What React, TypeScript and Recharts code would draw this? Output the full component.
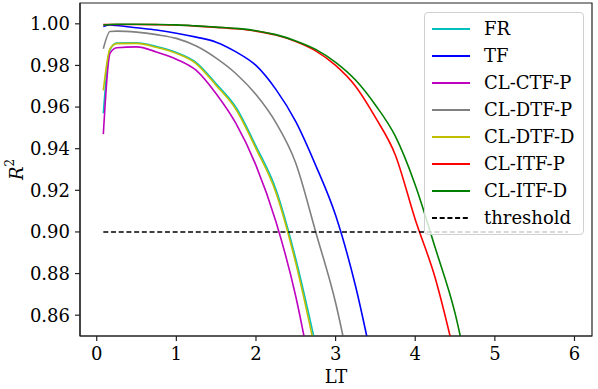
import React from "react"
import { LineChart, Line, XAxis, YAxis, Legend, ReferenceArea } from "recharts"

// lead time grid (x values shared by all series)
const lt = [0.083, 0.167, 0.25, 0.5, 0.75, 1, 1.25, 1.5, 1.75, 2, 2.25, 2.5, 2.75, 3, 3.25, 3.5, 3.75, 4, 4.25, 4.5, 4.75]

// R^2 per model (series stop once they leave the bottom)
const fr = [0.957, 0.9875, 0.9907, 0.9909, 0.9891, 0.9862, 0.9814, 0.9712, 0.9598, 0.9412, 0.9205, 0.887, 0.8455]
const tf = [0.9987, 0.9994, 0.9992, 0.9981, 0.997, 0.9955, 0.9936, 0.9912, 0.9865, 0.98, 0.9685, 0.953, 0.932, 0.908, 0.874, 0.83]
const clCtfP = [0.947, 0.9858, 0.9885, 0.9889, 0.9865, 0.983, 0.9776, 0.9664, 0.952, 0.932, 0.905, 0.869, 0.82]
const clDtfP = [0.988, 0.9963, 0.9965, 0.996, 0.9948, 0.993, 0.9893, 0.9835, 0.976, 0.966, 0.9525, 0.933, 0.9, 0.866, 0.82]
const clDtfD = [0.968, 0.988, 0.9905, 0.9906, 0.9887, 0.9858, 0.9808, 0.9704, 0.9588, 0.94, 0.919, 0.885, 0.842]
const clItfP = [0.9996, 0.9997, 0.9997, 0.9997, 0.9996, 0.9994, 0.9989, 0.9983, 0.9976, 0.9965, 0.9946, 0.9915, 0.987, 0.98, 0.97, 0.955, 0.937, 0.906, 0.878, 0.84]
const clItfD = [0.9994, 0.9997, 0.9998, 0.9998, 0.9997, 0.9995, 0.999, 0.9984, 0.9978, 0.9967, 0.9948, 0.9918, 0.9877, 0.9815, 0.973, 0.961, 0.946, 0.9226, 0.8925, 0.861, 0.815]

// threshold line
const thresholdLt = [0.083, 5.917]
const thresholdVal = [0.9, 0.9]

const xTicks = [0, 1, 2, 3, 4, 5, 6]
const yTicks = [0.86, 0.88, 0.9, 0.92, 0.94, 0.96, 0.98, 1.0]

const FONT = "DejaVu Serif"

const series = [
  { name: "FR", color: "#00bfbf", xs: lt, ys: fr, dash: undefined },
  { name: "TF", color: "#0000ff", xs: lt, ys: tf, dash: undefined },
  { name: "CL-CTF-P", color: "#bf00bf", xs: lt, ys: clCtfP, dash: undefined },
  { name: "CL-DTF-P", color: "#808080", xs: lt, ys: clDtfP, dash: undefined },
  { name: "CL-DTF-D", color: "#bfbf00", xs: lt, ys: clDtfD, dash: undefined },
  { name: "CL-ITF-P", color: "#ff0000", xs: lt, ys: clItfP, dash: undefined },
  { name: "CL-ITF-D", color: "#008000", xs: lt, ys: clItfD, dash: undefined },
  { name: "threshold", color: "#000000", xs: thresholdLt, ys: thresholdVal, dash: "5 2.7" },
]

const toRows = (xs: number[], ys: number[]) => ys.map((y, i) => ({ lt: xs[i], r2: y }))

const YLabel = ({ viewBox }: any) => {
  const cx = viewBox.x + 16
  const cy = viewBox.y + viewBox.height / 2
  return (
    <text
      x={cx}
      y={cy}
      transform={`rotate(-90 ${cx} ${cy})`}
      textAnchor="middle"
      dominantBaseline="central"
      fontFamily={FONT}
      fontSize={18}
      fill="#000"
    >
      <tspan fontStyle="italic">R</tspan>
      <tspan dy={-6} fontSize={12}>2</tspan>
    </text>
  )
}

const XLabel = ({ viewBox }: any) => (
  <text
    x={viewBox.x + viewBox.width / 2}
    y={viewBox.y + 47}
    textAnchor="middle"
    fontFamily={FONT}
    fontSize={18}
    fill="#000"
  >
    LT
  </text>
)

const LegendBox = () => (
  <div
    style={{
      fontFamily: FONT,
      fontSize: 18,
      background: "rgba(255,255,255,0.8)",
      border: "1px solid #d0d0d0",
      borderRadius: 4,
      padding: "2px 0 3px 0",
      boxSizing: "border-box",
      width: 160,
    }}
  >
    {series.map((s) => (
      <div key={s.name} style={{ display: "flex", alignItems: "center", height: 27 }}>
        <svg width={38} height={4} style={{ marginLeft: 7, marginRight: 14 }}>
          <line x1={0} y1={2} x2={38} y2={2} stroke={s.color} strokeWidth={2} strokeDasharray={s.dash} />
        </svg>
        <span style={{ color: "#000", lineHeight: "27px" }}>{s.name}</span>
      </div>
    ))}
  </div>
)

export default function App() {
  const tickStyle = { fontFamily: FONT, fontSize: 18, fill: "#000" }
  return (
    <div style={{ position: "absolute", left: 0, top: 0 }}>
      <LineChart width={598} height={389} margin={{ top: 3, right: 6, bottom: 0, left: 0 }}>
        <XAxis
          dataKey="lt"
          type="number"
          domain={[-0.21, 6.22]}
          ticks={xTicks}
          allowDataOverflow={true}
          height={53}
          tickSize={5}
          tickMargin={6}
          tick={tickStyle}
          stroke="#222"
          strokeWidth={1.2}
          label={<XLabel />}
        />
        <YAxis
          type="number"
          domain={[0.85, 1.01]}
          ticks={yTicks}
          allowDataOverflow={true}
          width={80}
          tickSize={5}
          tickMargin={5}
          tick={tickStyle}
          tickFormatter={(v: number) => v.toFixed(2)}
          stroke="#222"
          strokeWidth={1.2}
          label={<YLabel />}
        />
        <ReferenceArea x1={-0.21} x2={6.22} y1={0.85} y2={1.01} fill="none" stroke="#222" strokeWidth={1.2} />
        {series.map((s) => (
          <Line
            key={s.name}
            data={toRows(s.xs, s.ys)}
            dataKey="r2"
            name={s.name}
            type="monotone"
            stroke={s.color}
            strokeWidth={s.dash ? 1.5 : 1.6}
            strokeDasharray={s.dash}
            dot={false}
            activeDot={false}
            isAnimationActive={false}
          />
        ))}
        <Legend
          layout="vertical"
          align="center"
          verticalAlign="middle"
          content={<LegendBox />}
          wrapperStyle={{ left: 424, top: 12, width: 160, height: "auto" }}
        />
      </LineChart>
    </div>
  )
}
